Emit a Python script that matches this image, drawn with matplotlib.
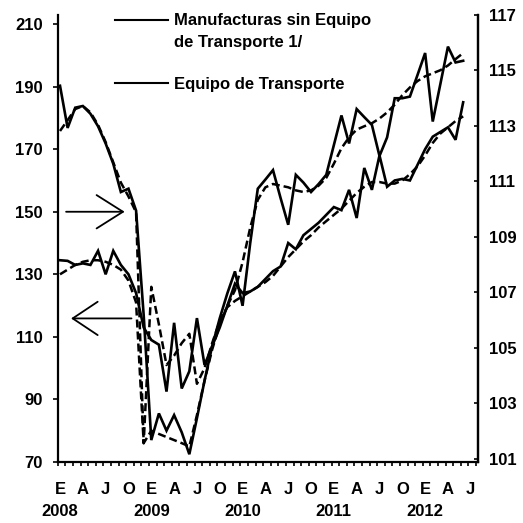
import numpy as np
import matplotlib
matplotlib.use('Agg')
import matplotlib.pyplot as plt
from matplotlib.lines import Line2D

plt.rcParams['font.family'] = ['Liberation Sans', 'DejaVu Sans']
plt.rcParams['font.size'] = 12
plt.rcParams['font.weight'] = 'bold'

# ---------------- data (monthly, Jan 2008 .. Jun 2012) ----------------
month_letters = ['E', 'A', 'J', 'O']          # Enero, Abril, Julio, Octubre
years = ['2008', '2009', '2010', '2011', '2012']

# Manufacturas sin Equipo de Transporte (right axis)
manuf = [114.45, 112.93, 113.66, 113.72, 113.44, 112.99, 112.37, 111.64, 110.62, 110.74,
         109.95, 106.18, 101.68, 102.64, 102.02, 102.58, 101.96, 101.17, 102.47, 103.82,
         105.06, 106.07, 106.97, 107.76, 106.52, 108.77, 110.74, 111.07, 111.41, 110.40,
         109.44, 111.24, 110.96, 110.62, 110.91, 111.24, 112.31, 113.38, 112.37, 113.61,
         113.32, 113.04, 111.92, 112.59, 114.00, 114.00, 114.06, 114.84, 115.63, 113.16,
         114.51, 115.86, 115.29, 115.35]
manuf_trend = [112.82, 113.21, 113.61, 113.72, 113.49, 113.04, 112.42, 111.69, 110.96, 110.46,
               109.89, 101.57, 102.02, 101.90, 101.79, 101.68, 101.57, 101.45, 102.58, 103.82,
               104.94, 105.84, 106.52, 107.08, 108.09, 109.33, 110.34, 110.79, 110.91, 110.85,
               110.79, 110.68, 110.62, 110.68, 110.85, 111.13, 111.64, 112.20, 112.59, 112.87,
               112.99, 113.10, 113.27, 113.49, 113.77, 114.11, 114.39, 114.62, 114.79, 114.90,
               115.01, 115.18, 115.41, 115.63]

# Equipo de Transporte (left axis)
transp = [134.5, 134.3, 133.0, 133.5, 133.0, 137.5, 130.0, 137.5, 133.0, 130.0,
          124.0, 113.0, 109.0, 107.5, 92.5, 114.5, 93.5, 99.0, 116.0, 101.0,
          107.0, 113.0, 120.0, 127.0, 124.0, 124.5, 126.0, 128.5, 131.0, 132.5,
          140.0, 138.0, 142.5, 144.5, 146.5, 149.0, 151.5, 150.5, 157.0, 148.0,
          164.0, 157.0, 168.0, 158.0, 160.0, 160.5, 160.0, 165.0, 170.0, 174.0,
          175.5, 177.0, 173.0, 185.0]
transp_trend = [130.0, 131.5, 133.0, 134.0, 134.5, 134.5, 134.0, 133.0, 131.5, 128.0,
                121.0, 76.0, 126.0, 114.0, 101.0, 104.0, 108.0, 111.0, 95.0, 100.0,
                108.0, 115.0, 119.5, 121.5, 123.0, 124.5, 126.0, 127.5, 129.5, 132.5,
                135.5, 138.0, 140.5, 142.5, 145.0, 147.0, 149.0, 151.0, 153.5, 156.0,
                158.0, 159.5, 159.5, 159.0, 159.0, 160.0, 162.0, 164.5, 168.0, 172.0,
                175.0, 177.0, 179.0, 180.5]

legend_labels = ['Manufacturas sin Equipo\nde Transporte 1/', 'Equipo de Transporte']
left_ticks = [70, 90, 110, 130, 150, 170, 190, 210]
right_ticks = [101, 103, 105, 107, 109, 111, 113, 115, 117]

# ---------------- figure ----------------
W = H = 523
fig = plt.figure(figsize=(W / 100, H / 100), dpi=100)
ax = fig.add_axes([57.5 / W, 1 - 462 / H, (478 - 57.5) / W, (462 - 15) / H])
ax2 = ax.twinx()

x = np.arange(len(manuf))
dash = (0, (3.2, 1.6))

ax.plot(x, transp, color='black', lw=1.9, solid_joinstyle='miter')
ax.plot(x, transp_trend, color='black', lw=1.8, linestyle=dash)
ax2.plot(x, manuf, color='black', lw=1.9, solid_joinstyle='miter')
ax2.plot(x, manuf_trend, color='black', lw=1.8, linestyle=dash)

ax.set_xlim(-0.33, 54.95)
ax.set_ylim(70, 212.9)
ax2.set_ylim(100.89, 116.96)

for a in (ax, ax2):
    a.spines['top'].set_visible(False)
    for s in a.spines.values():
        s.set_linewidth(1.6)
ax2.spines['left'].set_visible(False)
ax2.spines['bottom'].set_visible(False)

ax.set_yticks(left_ticks)
ax.tick_params(axis='y', direction='out', length=3.6, width=1.2, pad=7.0, labelsize=12)
ax2.set_yticks(right_ticks)
ax2.tick_params(axis='y', direction='in', length=3, width=1.2, pad=8.2, labelsize=12)

ax.set_xticks(np.arange(56) - 0.3)
ax.set_xticklabels([])
ax.tick_params(axis='x', direction='out', length=3, width=1.2)

# month / year labels
tr = ax.get_xaxis_transform()
axh = 462 - 15
for k, m in enumerate(range(0, 55, 3)):
    ax.text(m, -(490 - 462) / axh, month_letters[k % 4], transform=tr,
            ha='center', va='center', fontsize=12)
for k, yr in enumerate(years):
    ax.text(12 * k, -(512 - 462) / axh, yr, transform=tr,
            ha='center', va='center', fontsize=12)

# arrows indicating axes
ax.annotate('', xy=(8.5, 150), xytext=(0.8, 150),
            arrowprops=dict(arrowstyle='->,head_length=0.95,head_width=0.6',
                            lw=1.3, color='black', mutation_scale=20,
                            shrinkA=0, shrinkB=0))
ax.annotate('', xy=(1.45, 115.9), xytext=(9.4, 115.9),
            arrowprops=dict(arrowstyle='->,head_length=0.9,head_width=0.6',
                            lw=1.3, color='black', mutation_scale=20,
                            shrinkA=0, shrinkB=0))

# legend (drawn manually)
fig.add_artist(Line2D([115 / W, 168 / W], [1 - 20 / H, 1 - 20 / H], color='black', lw=1.5))
fig.add_artist(Line2D([115 / W, 168 / W], [1 - 83 / H, 1 - 83 / H], color='black', lw=1.5))
l1, l2 = legend_labels[0].split('\n')
fig.text(174 / W, 1 - 20 / H, l1, ha='left', va='center', fontsize=12)
fig.text(174 / W, 1 - 43 / H, l2, ha='left', va='center', fontsize=12)
fig.text(174 / W, 1 - 84 / H, legend_labels[1], ha='left', va='center', fontsize=12)

fig.savefig('out.png', dpi=100, facecolor='white')
